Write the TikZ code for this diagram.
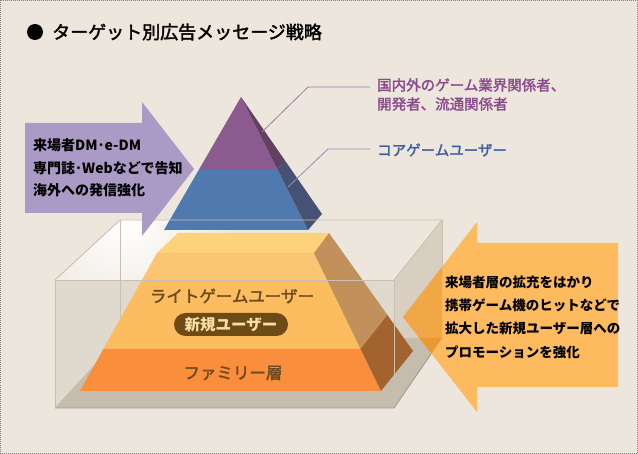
\documentclass[tikz,border=0pt]{standalone}
\usepackage{fontspec}
\newfontfamily\jp{Noto Sans CJK JP}
\newfontfamily\jpm[FakeBold=2]{Noto Sans CJK JP}
\usetikzlibrary{calc}

\definecolor{bgc}{HTML}{ECE6DC}
\definecolor{glassfront}{HTML}{E0D9CD}
\definecolor{glassside}{HTML}{D8CFC0}
\definecolor{floorc}{HTML}{C5BCAE}
\definecolor{edgec}{HTML}{C9C0B2}
\definecolor{flooredge}{HTML}{A59B8C}
\definecolor{purfront}{HTML}{8B5A8F}
\definecolor{purside}{HTML}{62405F}
\definecolor{blufront}{HTML}{5079B0}
\definecolor{bluside}{HTML}{465274}
\definecolor{yeltop}{HTML}{FDD27A}
\definecolor{yelfront}{HTML}{FBBD5F}
\definecolor{orafront}{HTML}{FB8E3D}
\definecolor{sideup}{HTML}{C2905A}
\definecolor{sidelow}{HTML}{A3632F}
\definecolor{arrpur}{HTML}{A99AC6}
\definecolor{arrora}{HTML}{FDBA5E}
\definecolor{arroraside}{HTML}{EFA845}
\definecolor{arrorafloor}{HTML}{E89A30}
\definecolor{txtbr}{HTML}{6E4A1F}
\definecolor{pillc}{HTML}{6E4B16}
\definecolor{pilltext}{HTML}{F8E0A4}
\definecolor{labpur}{HTML}{8A4C8C}
\definecolor{labblu}{HTML}{3F5D9F}
\definecolor{leadpur}{HTML}{A07AA8}
\definecolor{leadblu}{HTML}{8095BF}

\tikzset{
  edgeline/.style={draw=edgec, line width=0.9pt},
  flooredgeline/.style={draw=flooredge, line width=0.9pt},
  arrowtext/.style={anchor=west, inner sep=0pt, align=left, text=black},
  bandlabel/.style={inner sep=0pt, text=txtbr, font=\jpm\fontsize{16.5}{18}\selectfont},
  sidelabel/.style={anchor=west, inner sep=0pt, align=left},
  leader/.style={line width=0.8pt}
}

\begin{document}
\begin{tikzpicture}[x=1pt, y=-1pt]
\useasboundingbox (0,0) rectangle (638,454);
\fill[bgc] (0,0) rectangle (638,454);
\draw[gray, line width=1pt, dash pattern=on 1pt off 1pt] (0.5,0.5) rectangle (637.5,453.5);

% title
\node[circle, fill=black, inner sep=0pt, minimum size=16pt] (bullet) at (35,32) {};
\node[anchor=west, inner sep=0pt, font=\jpm\fontsize{18}{20}\selectfont] (title) at (52,32) {ターゲット別広告メッセージ戦略};

% glass box corners
\coordinate (FTL) at (55,280);
\coordinate (FTR) at (394,280);
\coordinate (FBR) at (394,408);
\coordinate (FBL) at (55,408);
\coordinate (BTL) at (120,220);
\coordinate (BTR) at (442,220);
\coordinate (BBR) at (442,338);
\coordinate (BBL) at (120,338);

% glass box: faces behind the contents
\fill[glassfront] (FTL) rectangle (FBR);
\begin{scope}
  \clip (FTL) -- (BTL) -- (BTR) -- (FTR) -- cycle;
  \shade[inner color=white, outer color=bgc] (124,224) circle (115);
\end{scope}
\fill[glassside] (FTR) -- (BTR) -- (BBR) -- (FBR) -- cycle;
\fill[floorc] (FBL) -- (FBR) -- (BBR) -- (BBL) -- cycle;
\draw[edgeline] (BTL) -- (BBL) -- (BBR) -- (BTR);
\draw[edgeline] (FBL) -- (BBL);

% lower frustum
\coordinate (TL) at (157,253);
\coordinate (TR) at (314,253);
\coordinate (TBR) at (329,233);
\coordinate (TBL) at (178,233);
\coordinate (ML) at (103.4,349);
\coordinate (MR) at (360.6,349);
\coordinate (MB) at (387.4,315);
\coordinate (BL) at (80,391);
\coordinate (BR) at (381,391);
\coordinate (BB) at (413,351);
\fill[yeltop] (TL) -- (TR) -- (TBR) -- (TBL) -- cycle;
\fill[yelfront] (TL) -- (TR) -- (MR) -- (ML) -- cycle;
\begin{scope}
  \clip (0,233) rectangle (638,280);
  \fill[white, opacity=0.12] (TL) -- (TR) -- (MR) -- (ML) -- cycle;
\end{scope}
\fill[orafront] (ML) -- (MR) -- (BR) -- (BL) -- cycle;
\fill[sideup] (TR) -- (TBR) -- (MB) -- (MR) -- cycle;
\fill[sidelow] (MR) -- (MB) -- (BB) -- (BR) -- cycle;

% upper pyramid
\coordinate (A) at (241,97);
\coordinate (PL) at (164,230);
\coordinate (PR) at (308,230);
\coordinate (PB) at (322,214);
\coordinate (CL) at ($(A)!0.541!(PL)$);
\coordinate (CR) at ($(A)!0.541!(PR)$);
\coordinate (CB) at ($(A)!0.541!(PB)$);
\fill[purfront] (A) -- (CR) -- (CL) -- cycle;
\fill[purside] (A) -- (CB) -- (CR) -- cycle;
\fill[blufront] (CL) -- (CR) -- (PR) -- (PL) -- cycle;
\fill[bluside] (CR) -- (CB) -- (PB) -- (PR) -- cycle;

% glass box: front edges
\draw[edgeline] (FTL) -- (FTR) -- (FBR);
\draw[edgeline] (FTL) -- (FBL);
\draw[flooredgeline] (FBL) -- (FBR) -- (BBR);
\draw[edgeline] (FTL) -- (BTL) -- (BTR);
\draw[edgeline] (FTR) -- (BTR);

% band labels
\node[bandlabel] (light) at (232,296) {ライトゲームユーザー};
\node[fill=pillc, rounded corners=11.5pt, minimum width=114pt, minimum height=23pt, inner sep=0pt,
      text=pilltext, font=\jp\bfseries\fontsize{15.5}{17}\selectfont] (newuser) at (231,324.5) {新規ユーザー};
\node[bandlabel] (family) at (233,373) {ファミリー層};

% orange arrow, seen partly through the glass
\def\orangearrow{(618,243) -- (477,243) -- (477,222) -- (403,317) -- (477,412) -- (477,387) -- (618,387) -- cycle}
\fill[arrora] \orangearrow;
\begin{scope}
  \clip \orangearrow;
  \fill[arroraside] (FTR) -- (BTR) -- (BBR) -- (FBR) -- cycle;
  \fill[arrorafloor] (FBR) -- (BBR) -- (BBL) -- (FBL) -- cycle;
\end{scope}
\node[arrowtext, font=\jp\bfseries\fontsize{13.5}{23.3}\selectfont] (promo) at (445,317)
  {来場者層の拡充をはかり\\携帯ゲーム機のヒットなどで\\拡大した新規ユーザー層への\\プロモーションを強化};

% purple arrow
\fill[arrpur] (25,123) -- (142,123) -- (142,102) -- (194,169) -- (142,236) -- (142,213) -- (25,213) -- cycle;
\node[arrowtext, font=\jp\bfseries\fontsize{14}{22.5}\selectfont] (media) at (33,168)
  {来場者DM･e-DM\\専門誌･Webなどで告知\\海外への発信強化};

% side labels with leaders
\node[sidelabel, text=labpur, font=\jpm\fontsize{14.5}{19}\selectfont] (industry1) at (377,85) {国内外のゲーム業界関係者、};
\node[sidelabel, text=labpur, font=\jpm\fontsize{14.5}{19}\selectfont] (industry2) at (377,104) {開発者、流通関係者};
\node[sidelabel, text=labblu, font=\jpm\fontsize{14.5}{19}\selectfont] (core) at (377,150) {コアゲームユーザー};
\coordinate (pbend) at (308,87);
\coordinate (ptip) at (262,132);
\coordinate (bbend) at (328,149);
\coordinate (btip) at (288,187);
\draw[leader, leadpur] ([shift={(-7,2)}]industry1.west) -- (pbend) -- (ptip);
\draw[leader, leadblu] ([shift={(-7,-1)}]core.west) -- (bbend) -- (btip);
\end{tikzpicture}
\end{document}
